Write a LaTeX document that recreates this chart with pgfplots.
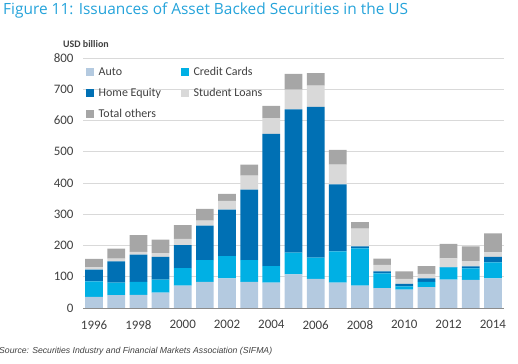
\documentclass[border=0pt]{standalone}
\usepackage{fontspec}
\setmainfont{Carlito}
\newfontfamily\srcfont{Liberation Sans}
\newfontfamily\titlefont{Open Sans}
\usepackage{pgfplots}
\pgfplotsset{compat=1.18}
\usepackage{pgfplotstable}
\definecolor{cAuto}{HTML}{B4CAE0}
\definecolor{cCC}{HTML}{00B0E4}
\definecolor{cHE}{HTML}{0070B4}
\definecolor{cSL}{HTML}{D9D9D9}
\definecolor{cOth}{HTML}{A6A6A6}
\definecolor{cTitle}{HTML}{25A3DA}
\definecolor{cText}{HTML}{404040}
\pgfplotstableread{
year auto cc he sl oth
1996 36 49 38 7 27
1997 41 40 68 9 32
1998 42 42 87 9 53
1999 49 42 73 12 43
2000 72 56 73 20 44
2001 84 69 111 16 37
2002 95 71 149 28 22
2003 84 69 226 45 35
2004 81 53 423 51 39
2005 108 69 459 63 50
2006 93 68 483 68 40
2007 81 100 215 63 47
2008 72 119 6 57 21
2009 64 47 6 21 20
2010 59 10 8 16 24
2011 67 17 11 14 25
2012 91 39 1 28 46
2013 90 37 6 17 47
2014 95 51 18 14 61
}\data
\begin{document}
\begin{tikzpicture}
\path[use as bounding box] (0,0) rectangle (518bp,364bp);
\node[anchor=base west, text=cTitle, inner sep=0, font=\titlefont\fontsize{15.5}{18}\selectfont] at (3bp,349bp) {Figure 11: Issuances of Asset Backed Securities in the US};
\node[anchor=west, inner sep=0, text=cText, font=\bfseries\fontsize{10}{12}\selectfont] at (63bp,320bp) {USD billion};
\node[anchor=base west, inner sep=0, text=cText, font=\srcfont\itshape\fontsize{8.7}{10}\selectfont] at (-1bp,11bp) {Source: Securities Industry and Financial Markets Association (SIFMA)};
\begin{axis}[
  at={(83bp,56bp)}, anchor=south west,
  scale only axis, width=421bp, height=250bp,
  ybar stacked, bar width=0.8,
  xmin=1995.5, xmax=2014.5, ymin=0, ymax=800,
  ytick={0,100,...,800}, xtick={1996,1998,...,2014},
  ymajorgrids, grid style={draw=black!15, line width=0.8pt},
  axis x line*=bottom, axis y line*=left,
  y axis line style={draw=none},
  x axis line style={-, draw=black!45, line width=0.8pt},
  major tick length=0pt,
  tick label style={font=\fontsize{13}{15}\selectfont, text=cText},
  /pgf/number format/assume math mode=true,
  xticklabel style={/pgf/number format/1000 sep={}},
  yticklabel style={xshift=-6bp},
  xticklabel style={yshift=-9bp},
  legend columns=2,
  legend cell align=left,
  legend image code/.code={\fill[#1] (0bp,-4bp) rectangle (8bp,4bp);},
  legend style={at={(axis description cs:0,1)}, anchor=north west, xshift=3bp, yshift=-6bp,
    draw=none, fill=none, inner sep=0pt, row sep=5bp,
    font=\fontsize{12}{14}\selectfont, text=cText,
    nodes={inner sep=2bp, text height=9bp, text depth=3bp},
    /tikz/every odd column/.append style={column sep=2.5bp},
    /tikz/every even column/.append style={column sep=18bp}},
]
\addplot[fill=cAuto, draw=none] table[x=year,y=auto]{\data};
\addplot[fill=cCC, draw=none] table[x=year,y=cc]{\data};
\addplot[fill=cHE, draw=none] table[x=year,y=he]{\data};
\addplot[fill=cSL, draw=none] table[x=year,y=sl]{\data};
\addplot[fill=cOth, draw=none] table[x=year,y=oth]{\data};
\legend{Auto, Credit Cards, Home Equity, Student Loans, Total others}
\end{axis}
\end{tikzpicture}
\end{document}
